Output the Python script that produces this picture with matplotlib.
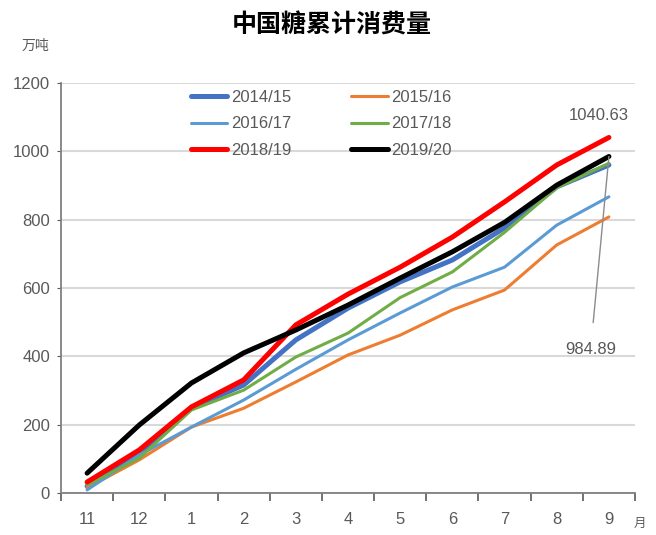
import matplotlib
matplotlib.use("Agg")
import matplotlib.pyplot as plt
import numpy as np

plt.rcParams['font.family'] = ['Noto Sans CJK SC', 'DejaVu Sans']

# x categories: months of the sugar season
months = ['11', '12', '1', '2', '3', '4', '5', '6', '7', '8', '9']

# cumulative consumption, 10k tonnes
s2014 = [20, 117, 249, 316, 448, 541, 618, 682, 776, 896, 960]
s2015 = [15, 97, 193, 248, 325, 404, 462, 536, 594, 726, 808]
s2016 = [9, 111, 193, 272, 362, 448, 527, 603, 661, 784, 867]
s2017 = [23, 102, 243, 301, 398, 468, 572, 647, 763, 893, 965]
s2018 = [32, 126, 252, 331, 492, 582, 661, 749, 852, 960, 1040.63]
s2019 = [58, 199, 322, 410, 477, 550, 629, 706, 792, 901, 984.89]

labels = ['2014/15', '2015/16', '2016/17', '2017/18', '2018/19', '2019/20']
colors = ['#4472C4', '#ED7D31', '#5B9BD5', '#70AD47', '#FF0000', '#000000']
widths = [3.6, 2.2, 2.2, 2.2, 3.6, 3.6]

num_font = 'Liberation Sans'
grey = '#595959'

fig = plt.figure(figsize=(6.56, 5.35), dpi=100)
ax = fig.add_axes([61 / 656, 42 / 535, 574 / 656, 410 / 535])

x = np.arange(len(months))
series = [s2014, s2015, s2016, s2017, s2018, s2019]
handles = []
for vals, lab, c, w in zip(series, labels, colors, widths):
    h, = ax.plot(x, vals, color=c, lw=w, label=lab, solid_capstyle='round')
    handles.append(h)

ax.set_xlim(-0.5, len(months) - 0.5)
ax.set_ylim(0, 1200)
ax.set_yticks(range(0, 1201, 200))
ax.grid(axis='y', color='#D9D9D9', lw=1.5)
ax.set_axisbelow(True)

ax.set_xticks(x)
ax.set_xticklabels(months)
ax.set_xticks(np.arange(-0.5, len(months), 1), minor=True)
ax.tick_params(axis='x', which='major', length=0, pad=14)
ax.tick_params(axis='x', which='minor', length=6, color=grey, width=1.2)
ax.tick_params(axis='y', length=3, color=grey, pad=5)
for lab in ax.get_xticklabels() + ax.get_yticklabels():
    lab.set_fontfamily(num_font)
    lab.set_fontsize(12)
    lab.set_color(grey)

for side in ['top', 'right']:
    ax.spines[side].set_visible(False)
for side in ['left', 'bottom']:
    ax.spines[side].set_color('#808080')
    ax.spines[side].set_linewidth(1.3)

# legend filled row by row: reorder for matplotlib's column-wise filling
order = [0, 2, 4, 1, 3, 5]
leg = ax.legend([handles[i] for i in order], [labels[i] for i in order],
                loc='upper left', bbox_to_anchor=(0.2, 1.02), ncol=2, frameon=False,
                handlelength=2.2, handletextpad=0.2, columnspacing=3.6,
                labelspacing=0.7, prop={'family': num_font, 'size': 12})
for t in leg.get_texts():
    t.set_color(grey)

fig.text(0.505, 0.953, '中国糖累计消费量', ha='center', va='center', fontsize=18,
         fontweight='bold', color='black')
fig.text(0.033, 0.915, '万吨', ha='left', va='center', fontsize=10, color=grey)
fig.text(0.975, 0.022, '月', ha='center', va='center', fontsize=9, color=grey)

ax.annotate(f'{s2018[-1]:.2f}', xy=(x[-1], s2018[-1]), xytext=(x[-1] - 0.2, 1105),
            ha='center', va='center', fontsize=12, color=grey, fontfamily=num_font)
ax.annotate(f'{s2019[-1]:.2f}', xy=(x[-1], s2019[-1]), xytext=(x[-1] - 0.35, 420),
            ha='center', va='center', fontsize=12, color=grey, fontfamily=num_font,
            arrowprops=dict(arrowstyle='-', color='#8c8c8c', lw=1, shrinkA=12, shrinkB=0))

fig.savefig('out.png', dpi=100)
